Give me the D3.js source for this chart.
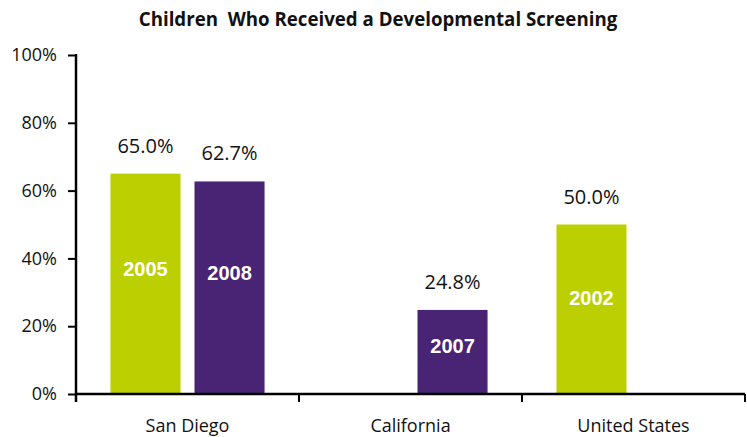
<!DOCTYPE html>
<html>
<head>
<meta charset="utf-8">
<script src="https://cdn.jsdelivr.net/npm/d3@7"></script>
<style>
  body { margin: 0; background: #fff; }
  svg { display: block; }
  text { font-family: "Open Sans", "Noto Sans", sans-serif; fill: #111; }
</style>
</head>
<body>
<div class="chart"></div>
<script>
// data
const categories = ['San Diego', 'California', 'United States'];
const slots = ['green', 'purple'];
const barCategory = ['San Diego', 'San Diego', 'California', 'United States'];
const barSlot = ['green', 'purple', 'purple', 'green'];
const barValues = [65.0, 62.7, 24.8, 50.0];
const barYears = ['2005', '2008', '2007', '2002'];
const yTicks = [0, 20, 40, 60, 80, 100];
const title = 'Children\u00a0 Who Received a Developmental Screening';

const W = 747, H = 437;
const margin = {top: 55, right: 2, bottom: 43, left: 76};
const colors = {green: '#bccf00', purple: '#4a2474'};

const svg = d3.select('.chart').append('svg')
    .attr('width', W).attr('height', H);

const g = svg.append('g')
    .attr('transform', 'translate(' + margin.left + ',' + margin.top + ')');

const x = d3.scaleBand().domain(categories).range([0, 669]).padding(0);
const x1 = d3.scaleBand().domain(slots).range([0, x.bandwidth()])
    .paddingInner(0.1667).paddingOuter(0.41);
const y = d3.scaleLinear().domain([0, 100]).range([339, 0]);

// title
svg.append('text')
    .attr('x', 378).attr('y', 26)
    .attr('text-anchor', 'middle')
    .style('font-weight', 'bold')
    .style('font-size', '18.7px')
    .text(title);

const bars = barValues.map((v, i) => ({
    value: v, cat: barCategory[i], slot: barSlot[i], year: barYears[i]
}));

const barG = g.selectAll('.bar').data(bars).enter().append('g').attr('class', 'bar');

barG.append('rect')
    .attr('x', d => x(d.cat) + x1(d.slot))
    .attr('y', d => y(d.value))
    .attr('width', x1.bandwidth())
    .attr('height', d => y(0) - y(d.value))
    .attr('fill', d => colors[d.slot]);

// value labels above bars
barG.append('text')
    .attr('x', d => x(d.cat) + x1(d.slot) + x1.bandwidth() / 2)
    .attr('y', d => y(d.value) - 21)
    .attr('text-anchor', 'middle')
    .style('font-size', '20px')
    .text(d => d.value.toFixed(1) + '%');

// year labels inside bars
barG.append('text')
    .attr('x', d => x(d.cat) + x1(d.slot) + x1.bandwidth() / 2)
    .attr('y', d => y(d.value) + (y(0) - y(d.value)) * 0.43)
    .attr('dy', '0.36em')
    .attr('text-anchor', 'middle')
    .style('font-family', '"Liberation Sans", Arial, sans-serif')
    .style('font-weight', 'bold')
    .style('font-size', '20px')
    .style('fill', '#fff')
    .text(d => d.year);

// y axis
const yAxis = g.append('g')
    .call(d3.axisLeft(y).tickValues(yTicks).tickFormat(d => d + '%')
        .tickSize(8).tickSizeOuter(0).tickPadding(11));
yAxis.select('.domain').remove();
yAxis.selectAll('line').attr('stroke', '#000').attr('stroke-width', 2);
yAxis.selectAll('text').style('font-size', '18px').style('fill', '#111')
    .style('font-family', '"Open Sans", sans-serif');
yAxis.append('line')
    .attr('x1', 0).attr('x2', 0).attr('y1', y(100) - 1).attr('y2', y(0) + 8)
    .attr('stroke', '#000').attr('stroke-width', 2.5);

// x axis
const xAxis = g.append('g')
    .attr('transform', 'translate(0,' + y(0) + ')')
    .call(d3.axisBottom(x).tickSize(0).tickPadding(25));
xAxis.select('.domain').remove();
xAxis.selectAll('text').style('font-size', '18px').style('fill', '#111')
    .style('font-family', '"Open Sans", sans-serif');
xAxis.append('line')
    .attr('x1', 0).attr('x2', 669).attr('y1', 0).attr('y2', 0)
    .attr('stroke', '#000').attr('stroke-width', 2.5);
xAxis.selectAll('.bound').data(categories).enter().append('line')
    .attr('class', 'bound')
    .attr('x1', d => x(d) + x.bandwidth()).attr('x2', d => x(d) + x.bandwidth())
    .attr('y1', 0).attr('y2', 8)
    .attr('stroke', '#000').attr('stroke-width', 2);
</script>
</body>
</html>
